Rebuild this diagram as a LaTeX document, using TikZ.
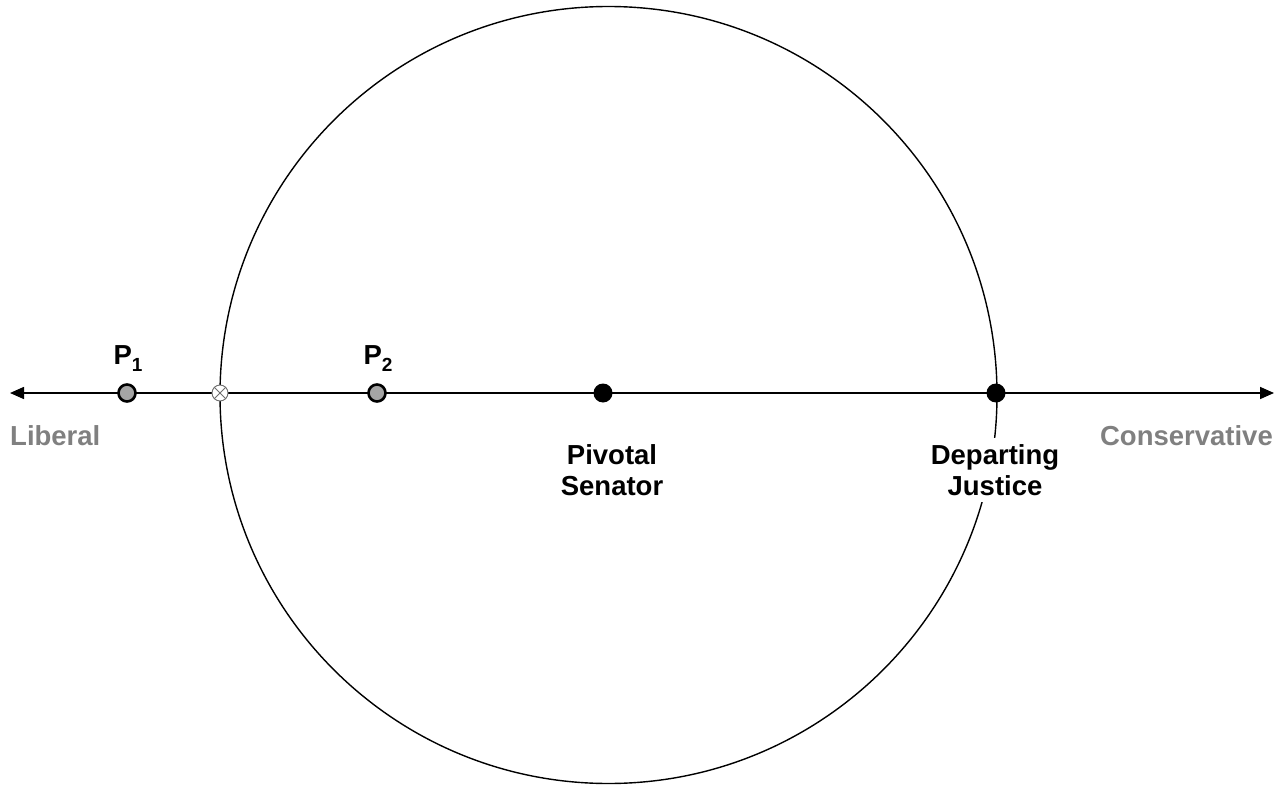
\documentclass[tikz,border=0pt]{standalone}
\usepackage{fontspec}
\setmainfont{Liberation Sans}
\usetikzlibrary{arrows.meta}
\definecolor{labgray}{RGB}{128,128,128}
\definecolor{ptgray}{RGB}{165,165,165}
\definecolor{crossgray}{RGB}{110,110,110}
\tikzset{
  lbl/.style={font=\fontsize{27.5}{31}\selectfont\bfseries, inner sep=0pt},
  sidelbl/.style={lbl, text=labgray},
  boxlbl/.style={lbl, fill=white, inner xsep=2pt, inner ysep=6pt},
  graydot/.style={circle, draw=black, line width=2.6pt, fill=ptgray, minimum size=17pt, inner sep=0pt},
  blackdot/.style={circle, fill=black, minimum size=19pt, inner sep=0pt},
  crossdot/.style={circle, draw=crossgray, line width=0.9pt, fill=white, minimum size=16pt, inner sep=0pt},
  axis/.style={line width=1.6pt, {Triangle[length=14pt,width=12pt]}-{Triangle[length=14pt,width=12pt]}},
}
\newcommand{\Psub}[1]{P\raisebox{-0.28em}{\fontsize{19}{19}\selectfont #1}}
\begin{document}
\begin{tikzpicture}[x=1pt,y=-1pt]
\useasboundingbox (0,0) rectangle (1284,786);
% big circle
\node[circle, draw, line width=1.4pt, minimum size=777pt, inner sep=0pt] (circ) at (608.5,395) {};
% axis
\coordinate (L) at (10,393);
\coordinate (R) at (1274,393);
\draw[axis] (L) -- (R);
% points
\node[graydot] (p1) at (127,393) {};
\node[graydot] (p2) at (377,393) {};
\node[crossdot] (x) at (220,393) {};
\draw[crossgray, line width=0.9pt] (x.north east) -- (x.south west) (x.north west) -- (x.south east);
\node[blackdot] (piv) at (603,393) {};
\node[blackdot] (dep) at (996,393) {};
% labels
\node[lbl, anchor=base] (p1l) at (128,364) {\Psub{1}};
\node[lbl, anchor=base] (p2l) at (378,364) {\Psub{2}};
\node[sidelbl, anchor=base west] (lib) at (10,445) {Liberal};
\node[sidelbl, anchor=base east] (con) at (1273,445) {Conservative};
\node[lbl, align=center] (pivl) at (612,470) {Pivotal\\Senator};
\node[boxlbl, align=center] (depl) at (995,470) {Departing\\Justice};
\end{tikzpicture}
\end{document}
